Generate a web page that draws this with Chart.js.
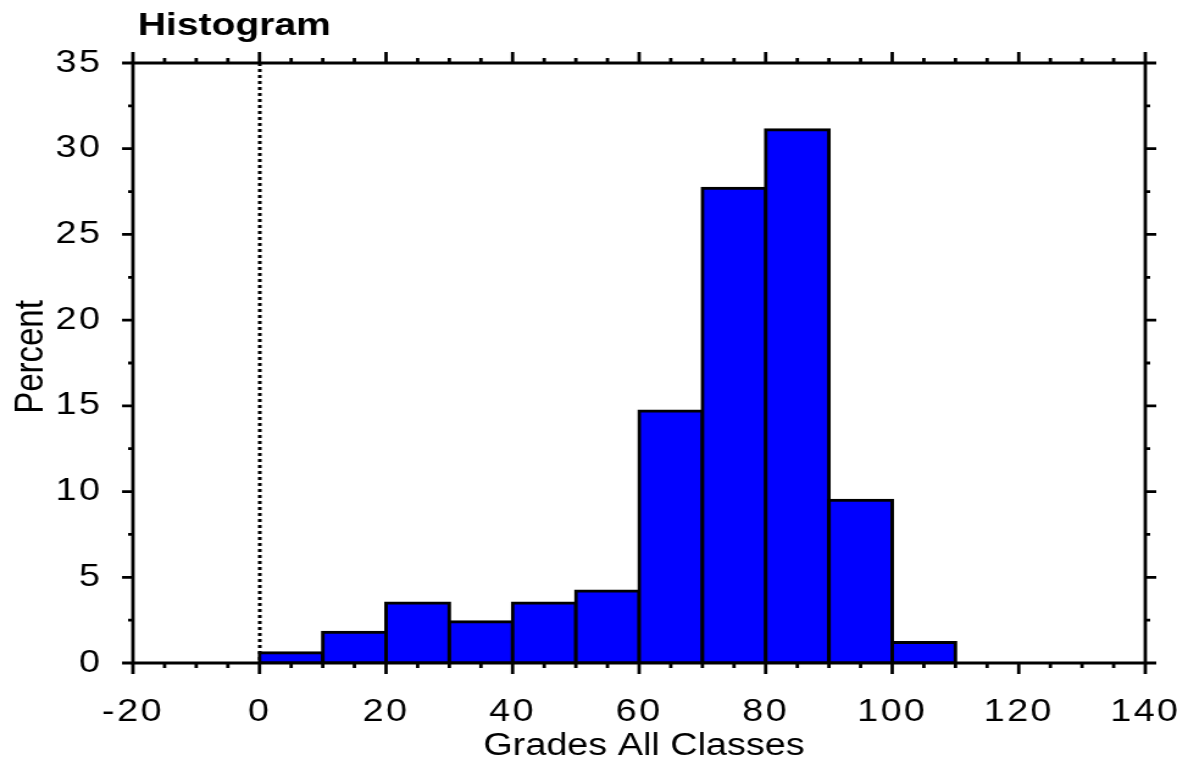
<!DOCTYPE html>
<html>
<head>
<meta charset="utf-8">
<title>Histogram</title>
<script src="https://cdn.jsdelivr.net/npm/chart.js@4.4.1/dist/chart.umd.min.js"></script>
<style>
  html, body { margin: 0; padding: 0; background: #fff; overflow: hidden; }
  #histChart { display: block; }
</style>
</head>
<body>
<!-- the original plot is drawn wide: render at 965 px and stretch to the window -->
<canvas id="histChart" width="965" height="768" style="width:1177px;height:768px"></canvas>
<script>
// bins are 10 wide, stored by their centre
const binCenters = [5, 15, 25, 35, 45, 55, 65, 75, 85, 95, 105];
const percentValues = [0.6, 1.8, 3.5, 2.4, 3.5, 4.2, 14.7, 27.7, 31.1, 9.5, 1.2];
const xTicks = [-20, 0, 20, 40, 60, 80, 100, 120, 140];
const yTicks = [0, 5, 10, 15, 20, 25, 30, 35];

const titleText = 'Histogram';
const xTitle = 'Grades All Classes';
const yTitle = 'Percent';

const FONT = "'Liberation Sans', Arial, sans-serif";

// frame, outward ticks, zero line and titles
const framePlugin = {
  id: 'frame',
  beforeDraw(chart) {
    chart.ctx.letterSpacing = '2px';
  },
  beforeDatasetsDraw(chart) {
    const {ctx, chartArea: a, scales: {x}} = chart;
    const x0 = Math.round(x.getPixelForValue(0));
    ctx.save();
    ctx.strokeStyle = '#000';
    ctx.lineWidth = 3;
    ctx.setLineDash([3, 3]);
    ctx.beginPath();
    ctx.moveTo(x0, a.top);
    ctx.lineTo(x0, a.bottom);
    ctx.stroke();
    ctx.restore();
  },
  afterDraw(chart) {
    const {ctx, chartArea: a, scales: {x, y}} = chart;
    ctx.save();
    ctx.strokeStyle = '#000';
    ctx.lineWidth = 2.8;
    ctx.lineCap = 'butt';
    ctx.beginPath();
    ctx.rect(a.left, a.top, a.right - a.left, a.bottom - a.top);
    ctx.stroke();

    ctx.beginPath();
    for (let v = -20; v <= 140; v += 5) {
      const px = x.getPixelForValue(v);
      const len = v % 20 === 0 ? 11 : 5;
      ctx.moveTo(px, a.bottom); ctx.lineTo(px, a.bottom + len);
      ctx.moveTo(px, a.top); ctx.lineTo(px, a.top - len);
    }
    for (let v = 0; v <= 35; v += 2.5) {
      const py = y.getPixelForValue(v);
      const len = v % 5 === 0 ? 9 : 4;
      ctx.moveTo(a.left, py); ctx.lineTo(a.left - len, py);
      ctx.moveTo(a.right, py); ctx.lineTo(a.right + len, py);
    }
    ctx.stroke();

    ctx.fillStyle = '#000';
    ctx.textBaseline = 'alphabetic';
    ctx.letterSpacing = '0px';

    ctx.font = "bold 32px " + FONT;
    ctx.textAlign = 'left';
    ctx.fillText(titleText, 113, 35);

    ctx.font = "31px " + FONT;
    ctx.textAlign = 'center';
    ctx.fillText(xTitle, (a.left + a.right) / 2 + 4, 755);

    ctx.font = "33px " + FONT;
    ctx.translate(35, (a.top + a.bottom) / 2 - 6);
    ctx.rotate(-Math.PI / 2);
    ctx.textAlign = 'center';
    ctx.fillText(yTitle, 0, 0);
    ctx.restore();
  }
};

const ctx = document.getElementById('histChart');
const histChart = new Chart(ctx, {
  type: 'bar',
  data: {
    datasets: [{
      label: yTitle,
      data: binCenters.map((c, i) => ({x: c, y: percentValues[i]})),
      backgroundColor: '#0000ff',
      borderColor: '#000000',
      borderWidth: 3,
      borderSkipped: false,
      inflateAmount: 1.5,
      barPercentage: 1,
      categoryPercentage: 1,
    }],
  },
  options: {
    responsive: false,
    animation: false,
    devicePixelRatio: 1,
    layout: {padding: {top: 63, right: 26, left: 0, bottom: 0}},
    plugins: {
      legend: {display: false},
      tooltip: {enabled: false},
      title: {display: false},
    },
    scales: {
      x: {
        type: 'linear',
        min: -20,
        max: 140,
        offset: false,
        grid: {display: false, drawTicks: true, tickLength: 31},
        border: {display: false},
        afterBuildTicks: (s) => { s.ticks = xTicks.map(v => ({value: v})); },
        afterFit: (s) => { s.height = 105; s.paddingLeft = 0; s.paddingRight = 0; },
        ticks: {
          color: '#000',
          font: {family: FONT, size: 31},
          padding: 0,
          maxRotation: 0,
          autoSkip: false,
        },
      },
      y: {
        min: 0,
        max: 35,
        grid: {display: false, drawTicks: false},
        border: {display: false},
        afterBuildTicks: (s) => { s.ticks = yTicks.map(v => ({value: v})); },
        afterFit: (s) => { s.width = 109; s.paddingTop = 0; s.paddingBottom = 0; },
        ticks: {
          color: '#000',
          font: {family: FONT, size: 31},
          padding: 25,
        },
      },
    },
  },
  plugins: [framePlugin],
});
</script>
</body>
</html>
